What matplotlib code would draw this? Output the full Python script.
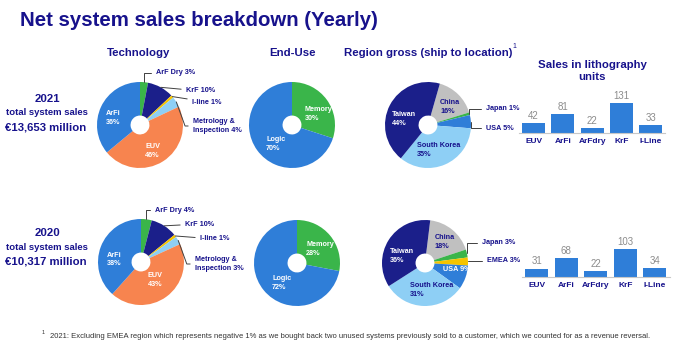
import numpy as np
import matplotlib.pyplot as plt

plt.rcParams['font.family'] = ['Liberation Sans', 'DejaVu Sans']

# -----------------------------
# Data
# -----------------------------
years = ['2021', '2020']
total_sales = ['€13,653 million', '€10,317 million']

tech_labels = ['ArF Dry', 'KrF', 'I-line', 'Metrology &\nInspection', 'EUV', 'ArFi']
tech_2021 = [3, 10, 1, 4, 46, 36]
tech_2020 = [4, 10, 1, 3, 43, 38]

enduse_labels = ['Memory', 'Logic']
enduse_2021 = [30, 70]
enduse_2020 = [28, 72]

region_labels_2021 = ['China', 'Japan', 'USA', 'South Korea', 'Taiwan']
region_2021 = [16, 1, 5, 35, 44]
region_labels_2020 = ['China', 'Japan', 'EMEA', 'USA', 'South Korea', 'Taiwan']
region_2020 = [18, 3, 3, 9, 31, 36]

unit_labels = ['EUV', 'ArFi', 'ArFdry', 'KrF', 'I-Line']
units_2021 = [42, 81, 22, 131, 33]
units_2020 = [31, 68, 22, 103, 34]

footnote = ('2021: Excluding EMEA region which represents negative 1% as we bought back two '
            'unused systems previously sold to a customer, which we counted for as a revenue reversal.')

# -----------------------------
# Styling
# -----------------------------
NAVY = '#17128c'
BLUE = '#2f7ed8'
ORANGE = '#f7844f'
GREEN = '#3ab54a'
DARK = '#1b1f8a'
YELLOW = '#f5c400'
LIGHT = '#8ecff5'
GRAY = '#c0c0c0'
LINE = '#404040'

tech_colors = [GREEN, DARK, YELLOW, LIGHT, ORANGE, BLUE]
enduse_colors = [GREEN, BLUE]
region_colors = {'China': GRAY, 'Japan': GREEN, 'EMEA': YELLOW, 'USA': BLUE,
                 'South Korea': LIGHT, 'Taiwan': DARK}

W, H = 674, 344
fig = plt.figure(figsize=(W / 100, H / 100), dpi=100)
fig.patch.set_facecolor('white')


def ftext(x, y, s, **kw):
    """Text placed in pixel coords measured from the top-left corner."""
    fig.text(x / W, 1 - y / H, s, **kw)


def draw_pie(cx, cy, values, names, colors, startangle, placement, r=43):
    ax = fig.add_axes([(cx - r) / W, 1 - (cy + r) / H, 2 * r / W, 2 * r / H])
    wedges, _ = ax.pie(values, colors=colors, startangle=startangle, counterclock=False,
                       radius=1, wedgeprops=dict(width=0.78, linewidth=0))
    # pie() resets the limits to +-1.25, so set them afterwards
    ax.set_xlim(-1, 1)
    ax.set_ylim(-1, 1)
    ax.axis('off')
    for w, name, v in zip(wedges, names, values):
        kind, a, b, extra = placement[name]
        if kind == 'in':
            ax.text(a, b, f'{name}\n{v}%', ha='left', va='center', fontsize=5.2,
                    fontweight='bold', color=extra, linespacing=1.3)
        elif kind == 'in1':
            ax.text(a, b, f'{name} {v}%', ha='left', va='center', fontsize=5.2,
                    fontweight='bold', color=extra)
        else:
            mid = np.deg2rad((w.theta1 + w.theta2) / 2)
            ax.annotate(f'{name} {v}%', xy=(np.cos(mid), np.sin(mid)), xycoords='data',
                        xytext=(a, H - b), textcoords='figure pixels',
                        ha='left', va='center', fontsize=5.2, fontweight='bold', color=NAVY,
                        linespacing=1.3, annotation_clip=False,
                        arrowprops=dict(arrowstyle='-', color=LINE, lw=0.7,
                                        shrinkA=1.5, shrinkB=0, connectionstyle=extra))
    return ax


def draw_bars(left, top, pitch, values, ymax):
    ax = fig.add_axes([left / W, 1 - (top + 33) / H, 5 * pitch / W, 33 / H])
    x = np.arange(len(values))
    bars = ax.bar(x, values, width=0.79, color=BLUE)
    ax.bar_label(bars, padding=1.5, fontsize=7, color='#8c8c8c')
    ax.set_xlim(-0.5, len(values) - 0.5)
    ax.set_ylim(0, ymax)
    ax.set_xticks(x)
    ax.set_xticklabels(unit_labels, fontsize=6, fontweight='bold', color=NAVY)
    ax.tick_params(axis='x', length=0, pad=3.5)
    ax.set_yticks([])
    for s in ['top', 'right', 'left']:
        ax.spines[s].set_visible(False)
    ax.spines['bottom'].set_color('#c8c8c8')
    ax.spines['bottom'].set_linewidth(0.8)
    ax.patch.set_alpha(0)
    return ax


# -----------------------------
# Headers
# -----------------------------
ftext(20, 20, 'Net system sales breakdown (Yearly)', fontsize=14.7, fontweight='bold',
      color=NAVY, va='center', ha='left')
hkw = dict(fontsize=8.2, fontweight='bold', color=NAVY, va='center', ha='center')
ftext(139, 53, 'Technology', **hkw)
ftext(293, 53, 'End-Use', **hkw)
ftext(428, 53, 'Region gross (ship to location)', **hkw)
ftext(514, 46, '1', fontsize=5, color=NAVY, va='center', ha='center')
ftext(592, 71, 'Sales in lithography\nunits', linespacing=1.15, **hkw)

# Year totals
for y0, yr, tot in zip([99, 233], years, total_sales):
    ftext(47, y0, yr, fontsize=8.2, fontweight='bold', color=NAVY, ha='center', va='center')
    ftext(47, y0 + 14, 'total system sales', fontsize=6.8, fontweight='bold', color=NAVY,
          ha='center', va='center')
    ftext(46, y0 + 28, tot, fontsize=8.2, fontweight='bold', color=NAVY, ha='center',
          va='center')

# -----------------------------
# Technology pies
# -----------------------------
tech_place_2021 = {
    'ArF Dry': ('out', 156, 73, 'angle,angleA=0,angleB=90,rad=0'),
    'KrF': ('out', 186, 91, 'arc3,rad=0'),
    'I-line': ('out', 192, 102, 'arc3,rad=0'),
    'Metrology &\nInspection': ('out', 193, 126, 'angle,angleA=0,angleB=-70,rad=0'),
    'EUV': ('in', 0.12, -0.60, 'white'),
    'ArFi': ('in', -0.79, 0.16, 'white'),
}
tech_place_2020 = {
    'ArF Dry': ('out', 155, 210, 'angle,angleA=0,angleB=90,rad=0'),
    'KrF': ('out', 185, 224, 'arc3,rad=0'),
    'I-line': ('out', 200, 239, 'arc3,rad=0'),
    'Metrology &\nInspection': ('out', 195, 264, 'angle,angleA=0,angleB=-70,rad=0'),
    'EUV': ('in', 0.16, -0.42, 'white'),
    'ArFi': ('in', -0.79, 0.06, 'white'),
}
draw_pie(140, 125, tech_2021, tech_labels, tech_colors, 90, tech_place_2021)
draw_pie(141, 262, tech_2020, tech_labels, tech_colors, 90, tech_place_2020)

# -----------------------------
# End-use pies
# -----------------------------
enduse_place_2021 = {'Memory': ('in', 0.30, 0.26, 'white'), 'Logic': ('in', -0.60, -0.44, 'white')}
enduse_place_2020 = {'Memory': ('in', 0.21, 0.33, 'white'), 'Logic': ('in', -0.58, -0.47, 'white')}
draw_pie(292, 125, enduse_2021, enduse_labels, enduse_colors, 90, enduse_place_2021)
draw_pie(297, 263, enduse_2020, enduse_labels, enduse_colors, 90, enduse_place_2020)

# -----------------------------
# Region pies
# -----------------------------
region_place_2021 = {
    'China': ('in', 0.28, 0.42, NAVY),
    'Japan': ('out', 486, 109, 'angle,angleA=0,angleB=90,rad=0'),
    'USA': ('out', 486, 128, 'angle,angleA=0,angleB=90,rad=0'),
    'South Korea': ('in', -0.26, -0.58, NAVY),
    'Taiwan': ('in', -0.84, 0.14, 'white'),
}
region_place_2020 = {
    'China': ('in', 0.23, 0.49, NAVY),
    'Japan': ('out', 482, 243, 'angle,angleA=0,angleB=90,rad=0'),
    'EMEA': ('out', 487, 261, 'angle,angleA=0,angleB=90,rad=0'),
    'USA': ('in1', 0.42, -0.14, 'white'),
    'South Korea': ('in', -0.35, -0.63, NAVY),
    'Taiwan': ('in', -0.81, 0.16, 'white'),
}
draw_pie(428, 125, region_2021, region_labels_2021,
         [region_colors[n] for n in region_labels_2021], 74, region_place_2021)
draw_pie(425, 263, region_2020, region_labels_2020,
         [region_colors[n] for n in region_labels_2020], 83, region_place_2020)

# -----------------------------
# Lithography unit bars
# -----------------------------
draw_bars(519, 100, 29.25, units_2021, 144)
draw_bars(522, 244, 29.5, units_2020, 121)

# Footnote
ftext(43, 333, '1', fontsize=4, color='#333333', ha='center', va='center')
ftext(50, 336, footnote, fontsize=5.5, color='#333333', ha='left', va='center')

fig.savefig('out.png', dpi=100, facecolor='white')
